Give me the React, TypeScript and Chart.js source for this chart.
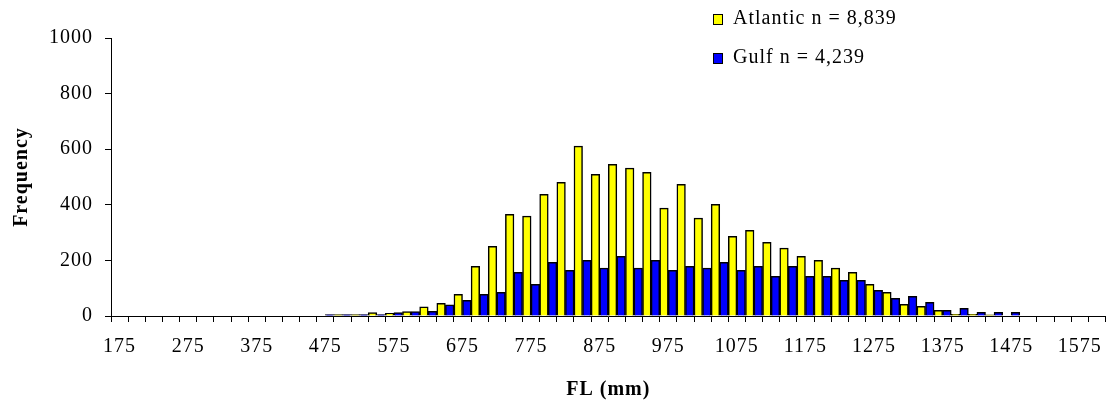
import React, { useEffect, useRef } from "react";
import { Chart, registerables } from "chart.js";

Chart.register(...registerables);

// Fork length classes (mm), 25 mm bins
const categories: number[] = [
  175, 200, 225, 250, 275, 300, 325, 350, 375, 400, 425, 450,
  475, 500, 525, 550, 575, 600, 625, 650, 675, 700, 725, 750,
  775, 800, 825, 850, 875, 900, 925, 950, 975, 1000, 1025, 1050,
  1075, 1100, 1125, 1150, 1175, 1200, 1225, 1250, 1275, 1300, 1325, 1350,
  1375, 1400, 1425, 1450, 1475, 1500, 1525, 1550, 1575, 1600,
];

const atlantic: number[] = [
  0, 0, 0, 0, 0, 0, 0, 0, 0, 0, 0, 0,
  0, 5, 5, 12, 10, 16, 33, 46, 78, 179, 251, 366,
  359, 438, 481, 611, 510, 546, 532, 517, 388, 474, 352, 402,
  287, 308, 265, 244, 215, 200, 172, 157, 114, 85, 42, 35,
  20, 6, 6, 4, 0, 0, 0, 0, 0, 0,
];

const gulf: number[] = [
  0, 0, 0, 0, 0, 0, 0, 0, 0, 0, 0, 0,
  5, 5, 5, 5, 12, 16, 17, 40, 56, 78, 85, 157,
  114, 193, 164, 200, 172, 215, 172, 200, 164, 179, 172, 193,
  164, 179, 143, 179, 143, 143, 128, 128, 92, 64, 71, 49,
  20, 28, 13, 13, 13, 0, 0, 0, 0, 0,
];

const seriesLabels: string[] = ["Atlantic n = 8,839", "Gulf n = 4,239"];
const yTicks: number[] = [0, 200, 400, 600, 800, 1000];
const labelEvery = 4;

const FONT_FAMILY = "'Liberation Serif', 'Times New Roman', serif";

const spacingPlugin = {
  id: "letterSpacing",
  beforeUpdate(chart: any) {
    chart.ctx.letterSpacing = "1px";
  },
  beforeLayout(chart: any) {
    chart.ctx.letterSpacing = "1px";
  },
  beforeDraw(chart: any) {
    chart.ctx.letterSpacing = "1px";
  },
};

const legendPlugin = {
  id: "customLegend",
  afterDraw(chart: any) {
    const ctx = chart.ctx;
    const rows = [19, 58];
    ctx.save();
    ctx.letterSpacing = "1px";
    ctx.font = `20px ${FONT_FAMILY}`;
    ctx.textBaseline = "middle";
    ctx.textAlign = "left";
    chart.data.datasets.forEach((ds: any, i: number) => {
      const y = rows[i];
      ctx.fillStyle = ds.backgroundColor;
      ctx.fillRect(713.5, y - 4.5, 9, 10);
      ctx.strokeStyle = "#000";
      ctx.lineWidth = 1;
      ctx.strokeRect(713.5, y - 4.5, 9, 10);
      ctx.fillStyle = "#000";
      ctx.fillText(ds.label, 733, y);
    });
    ctx.restore();
  },
};

export default function App() {
  const ref = useRef<HTMLCanvasElement | null>(null);

  useEffect(() => {
    if (!ref.current) return;
    const chart = new Chart(ref.current, {
      type: "bar",
      data: {
        labels: categories.map(String),
        datasets: [
          {
            label: seriesLabels[0],
            data: atlantic,
            backgroundColor: "#FFFF00",
            borderColor: "#000000",
            borderWidth: 1.5,
            categoryPercentage: 1,
            barPercentage: 1,
          },
          {
            label: seriesLabels[1],
            data: gulf,
            backgroundColor: "#0000FF",
            borderColor: "#000000",
            borderWidth: 1.5,
            categoryPercentage: 1,
            barPercentage: 1,
          },
        ],
      },
      options: {
        responsive: false,
        animation: false,
        devicePixelRatio: 1,
        layout: { padding: { left: 0, right: 4, top: 38, bottom: 0 } },
        plugins: {
          legend: { display: false },
          tooltip: { enabled: false },
        },
        scales: {
          x: {
            type: "category",
            offset: true,
            grid: {
              display: true,
              offset: true,
              drawOnChartArea: false,
              drawTicks: true,
              tickLength: 6,
              color: "#000",
            },
            border: { display: true, color: "#000", width: 1 },
            ticks: {
              autoSkip: false,
              maxRotation: 0,
              minRotation: 0,
              padding: 13,
              color: "#000",
              font: { family: FONT_FAMILY, size: 20 },
              callback: (_v: any, i: number) =>
                i % labelEvery === 0 ? String(categories[i]) : "",
            },
            title: {
              display: true,
              text: "FL (mm)",
              color: "#000",
              font: { family: FONT_FAMILY, size: 20, weight: "bold" },
              padding: { top: 0, bottom: 0 },
            },
            afterFit: (scale: any) => {
              scale.height = 86;
            },
          },
          y: {
            min: 0,
            max: 1000,
            afterBuildTicks: (scale: any) => {
              scale.ticks = yTicks.map((v) => ({ value: v }));
            },
            grid: {
              display: true,
              drawOnChartArea: false,
              drawTicks: true,
              tickLength: 6,
              color: "#000",
            },
            border: { display: true, color: "#000", width: 1 },
            ticks: {
              padding: 12,
              color: "#000",
              font: { family: FONT_FAMILY, size: 20 },
              callback: (v: any) => String(v),
            },
            title: {
              display: true,
              text: "Frequency",
              color: "#000",
              font: { family: FONT_FAMILY, size: 20, weight: "bold" },
              padding: { top: 10, bottom: 0 },
            },
            afterFit: (scale: any) => {
              scale.width = 111;
            },
          },
        },
      },
      plugins: [spacingPlugin, legendPlugin],
    });
    return () => chart.destroy();
  }, []);

  return (
    <div style={{ position: "fixed", left: 0, top: 0, width: 1110, height: 402, background: "#fff" }}>
      <canvas ref={ref} width={1110} height={402} style={{ width: 1110, height: 402 }} />
    </div>
  );
}
